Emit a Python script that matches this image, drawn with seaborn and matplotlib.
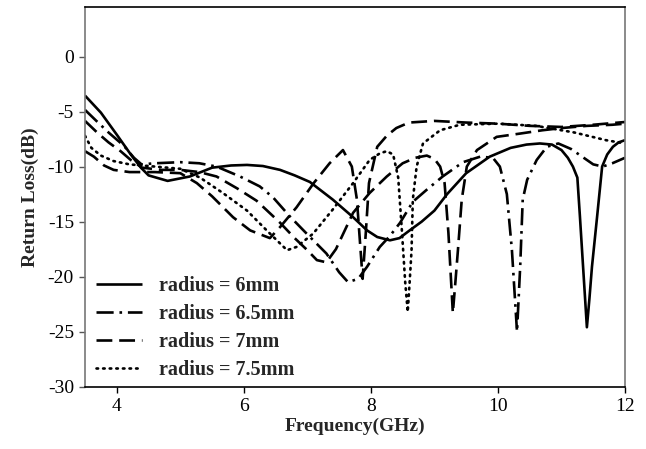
import numpy as np
import pandas as pd
import seaborn as sns
import matplotlib
matplotlib.use("Agg")
import matplotlib.pyplot as plt

# Return loss vs frequency for several patch radii (values in GHz / dB)
freq_6mm = [3.5, 3.75, 4.0, 4.22, 4.38, 4.5, 4.8, 5.15, 5.5, 5.8, 6.05, 6.3, 6.57, 6.8, 7.04, 7.4,
            7.72, 7.94, 8.1, 8.3, 8.45, 8.61, 8.8, 9.0, 9.2, 9.5, 9.87, 10.2, 10.45, 10.66, 10.85,
            11.0, 11.1, 11.18, 11.25, 11.29, 11.34, 11.4, 11.44, 11.48, 11.56, 11.64, 11.72, 11.81,
            11.9, 12.0]
rl_6mm = [-3.55, -5.1, -7.1, -8.9, -10.1, -10.8, -11.3, -10.9, -10.1, -9.9, -9.85, -9.95, -10.3,
          -10.8, -11.4, -13.0, -14.6, -15.8, -16.4, -16.7, -16.5, -15.8, -15.0, -14.0, -12.5,
          -10.6, -9.1, -8.3, -8.0, -7.9, -8.0, -8.5, -9.2, -10.0, -11.0, -14.5, -19.1, -24.6,
          -22.0, -19.1, -14.6, -10.0, -8.9, -8.2, -7.8, -7.6]

freq_6_5mm = [3.5, 3.67, 3.87, 4.11, 4.27, 4.39, 4.6, 5.0, 5.3, 5.57, 5.94, 6.25, 6.46, 6.72, 6.99,
              7.3, 7.5, 7.64, 7.8, 7.94, 8.14, 8.3, 8.46, 8.66, 8.88, 9.13, 9.45, 9.72, 9.92, 10.03,
              10.14, 10.22, 10.3, 10.35, 10.39, 10.46, 10.61, 10.77, 10.95, 11.15, 11.35, 11.5,
              11.65, 11.8, 12.0]
rl_6_5mm = [-4.85, -5.8, -6.9, -8.1, -9.2, -9.8, -9.7, -9.6, -9.7, -10.0, -10.9, -11.8, -12.8,
            -14.5, -16.1, -17.9, -19.6, -20.5, -20.2, -19.1, -17.3, -16.3, -15.1, -13.2, -12.1,
            -10.9, -9.6, -9.1, -9.2, -10.0, -12.5, -17.6, -25.0, -19.1, -13.0, -11.2, -9.4, -8.2,
            -7.9, -8.4, -9.2, -9.8, -10.0, -9.7, -9.2]

freq_7mm = [3.5, 3.69, 3.87, 4.06, 4.22, 4.4, 4.7, 5.0, 5.3, 5.57, 5.9, 6.2, 6.57, 6.8, 7.0, 7.15,
            7.3, 7.45, 7.72, 7.98, 8.25, 8.5, 8.7, 8.88, 9.0, 9.09, 9.16, 9.22, 9.29, 9.33, 9.37,
            9.43, 9.51, 9.67, 9.98, 10.35, 10.7, 11.0, 11.4, 11.8, 12.0]
rl_7mm = [-5.85, -6.9, -7.8, -8.6, -9.4, -10.1, -10.3, -10.3, -10.5, -10.9, -12.0, -13.1, -15.1,
          -16.5, -17.6, -18.5, -18.7, -17.5, -14.2, -12.4, -10.9, -9.7, -9.2, -9.0, -9.3, -10.0,
          -11.5, -16.0, -23.3, -20.5, -17.6, -13.0, -10.0, -8.5, -7.3, -7.0, -6.7, -6.5, -6.3,
          -6.2, -6.1]

freq_7_5mm = [3.5, 3.6, 3.75, 3.95, 4.2, 4.6, 5.0, 5.31, 5.67, 6.05, 6.36, 6.68, 6.83, 7.09, 7.4,
              7.72, 7.98, 8.14, 8.25, 8.35, 8.43, 8.49, 8.54, 8.58, 8.61, 8.64, 8.66, 8.72, 8.82,
              9.09, 9.4, 10.0, 10.6, 11.2, 11.7, 12.0]
rl_7_5mm = [-7.2, -8.3, -9.0, -9.5, -9.8, -10.0, -10.2, -11.0, -12.4, -14.0, -15.8, -17.6, -17.3,
            -16.1, -13.9, -11.5, -9.4, -8.8, -8.6, -8.9, -11.0, -16.0, -20.5, -23.2, -20.5, -17.6,
            -13.0, -10.0, -7.9, -6.7, -6.2, -6.1, -6.3, -6.9, -7.6, -7.9]

# additional trace shown without a legend entry
freq_extra = [3.5, 3.64, 3.8, 3.95, 4.2, 4.6, 5.0, 5.26, 5.5, 5.83, 6.1, 6.41, 6.57, 6.83, 7.1,
              7.35, 7.56, 7.7, 7.78, 7.83, 7.87, 7.92, 7.97, 8.1, 8.25, 8.4, 8.6, 9.0, 9.5, 10.0,
              10.5, 11.0, 11.5, 12.0]
rl_extra = [-8.6, -9.1, -9.9, -10.3, -10.5, -10.5, -10.6, -11.5, -12.7, -14.6, -15.8, -16.5,
            -15.5, -13.7, -11.5, -9.7, -8.5, -10.0, -13.0, -17.0, -20.2, -16.0, -11.5, -8.2, -7.2,
            -6.5, -6.0, -5.85, -6.0, -6.1, -6.3, -6.4, -6.2, -5.95]

labels = ["radius = 6mm", "radius = 6.5mm", "radius = 7mm", "radius = 7.5mm"]
x_ticks = [4, 6, 8, 10, 12]
y_ticks = [0, -5, -10, -15, -20, -25, -30]

sns.set_theme(style="white")
plt.rcParams["font.family"] = ["Liberation Serif", "DejaVu Serif"]
plt.rcParams["axes.unicode_minus"] = False

fig = plt.figure(figsize=(6.46, 4.49), dpi=100)
ax = fig.add_axes([0.1316, 0.1388, 0.8359, 0.8456])

series = [
    (freq_6mm, rl_6mm, labels[0], "-", "butt"),
    (freq_6_5mm, rl_6_5mm, labels[1], (0, (6.5, 2.2, 1, 2.2)), "butt"),
    (freq_7mm, rl_7mm, labels[2], (0, (6, 2.6)), "butt"),
    (freq_7_5mm, rl_7_5mm, labels[3], (0, (0.6, 1.9)), "round"),
    (freq_extra, rl_extra, "_nolegend_", (0, (6, 2.6)), "butt"),
]
for f, rl, lab, ls, cap in series:
    df = pd.DataFrame({"f": f, "rl": rl})
    sns.lineplot(data=df, x="f", y="rl", ax=ax, color="black", linewidth=1.9,
                 linestyle=ls, label=lab, dash_capstyle=cap, solid_capstyle="butt",
                 legend=False)

ax.set_xlim(3.5, 12)
ax.set_ylim(-30, 4.5)
ax.set_xticks(x_ticks)
ax.set_xticklabels([str(t) for t in x_ticks])
ax.set_yticks(y_ticks)
ax.set_yticklabels([str(t) for t in y_ticks])
ax.tick_params(axis="both", direction="out", length=4, width=1, labelsize=14,
               colors="black", pad=4, left=True, bottom=True)
ax.tick_params(axis="y", color="#555555")

for side in ["top", "bottom"]:
    ax.spines[side].set_color("black")
    ax.spines[side].set_linewidth(1.2)
for side in ["left", "right"]:
    ax.spines[side].set_color("#777777")
    ax.spines[side].set_linewidth(1.2)

ax.set_xlabel("Frequency(GHz)", fontsize=14, fontweight="bold", labelpad=2)
ax.set_ylabel("Return Loss(dB)", fontsize=14, fontweight="bold", labelpad=6)

handles = ax.get_lines()[:4]
leg = ax.legend(handles, labels, loc="lower left", bbox_to_anchor=(0.012, 0.006),
                frameon=False, prop={"weight": "bold", "size": 14.5},
                handlelength=2.3, handletextpad=0.85, labelspacing=0.40,
                borderpad=0.2, borderaxespad=0)

fig.savefig("out.png", dpi=100)
